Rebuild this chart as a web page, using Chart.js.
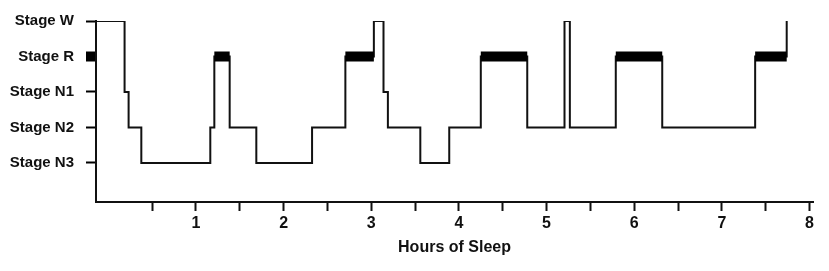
<!DOCTYPE html>
<html>
<head>
<meta charset="utf-8">
<script src="https://cdn.jsdelivr.net/npm/chart.js@4/dist/chart.umd.min.js"></script>
<style>
  html, body { margin: 0; padding: 0; background: #fff; }
  #wrap { width: 829px; height: 271px; }
</style>
</head>
<body>
<div id="wrap"><canvas id="hypnoChart" width="829" height="271"></canvas></div>
<script>
// stage names on the y axis, top to bottom
const stageNames = ['Stage W', 'Stage R', 'Stage N1', 'Stage N2', 'Stage N3'];
const stageKeys = ['W', 'R', 'N1', 'N2', 'N3'];

// hour at which each stage begins, and the stage
const stageStart = [-0.14, 0.186, 0.232, 0.377, 1.164, 1.21, 1.385, 1.689, 2.325, 2.705, 3.03, 3.14,
                    3.19, 3.56, 3.89, 4.25, 4.78, 5.205, 5.266, 5.79, 6.32, 7.38, 7.74];
const stageLevel = ['W', 'N1', 'N2', 'N3', 'N2', 'R', 'N2', 'N3', 'N2', 'R', 'W', 'N1',
                    'N2', 'N3', 'N2', 'R', 'N2', 'W', 'N2', 'R', 'N2', 'R', 'W'];

// x axis ticks (half hours), labels only on whole hours
const hourTicks = [0.5, 1, 1.5, 2, 2.5, 3, 3.5, 4, 4.5, 5, 5.5, 6, 6.5, 7, 7.5, 8];
const hourLabels = ['1', '2', '3', '4', '5', '6', '7', '8'];

function levelValue(key) {
    return 5 - stageKeys.indexOf(key);
}

const stepPoints = stageStart.map((x, i) => ({ x: x, y: levelValue(stageLevel[i]) }));

const remPoints = [];
stageLevel.forEach((lvl, i) => {
    if (lvl === 'R' && i + 1 < stageStart.length) {
        remPoints.push({ x: stageStart[i], y: levelValue('R') });
        remPoints.push({ x: stageStart[i + 1], y: levelValue('R') });
        remPoints.push({ x: stageStart[i + 1], y: null });
    }
});

const fontFam = '"Liberation Sans", Arial, Helvetica, sans-serif';

const ctx = document.getElementById('hypnoChart').getContext('2d');
new Chart(ctx, {
    type: 'line',
    data: {
        datasets: [{
            data: remPoints,
            borderColor: '#000',
            borderWidth: 10,
            borderCapStyle: 'butt',
            pointRadius: 0,
            spanGaps: false,
            order: 0
        }, {
            data: stepPoints,
            stepped: 'before',
            borderColor: '#111',
            borderWidth: 2,
            pointRadius: 0,
            fill: false,
            order: 1
        }]
    },
    options: {
        responsive: false,
        animation: false,
        layout: { padding: { left: 0, right: 16, top: 20, bottom: 0 } },
        plugins: {
            legend: { display: false },
            tooltip: { enabled: false }
        },
        scales: {
            x: {
                type: 'linear',
                min: -0.14,
                max: 8.04,
                afterBuildTicks: function(scale) {
                    scale.ticks = hourTicks.map(v => ({ value: v }));
                },
                afterFit: function(scale) { scale.height = 69; },
                border: { display: true, color: '#111', width: 2 },
                grid: {
                    drawOnChartArea: false,
                    drawTicks: true,
                    tickLength: 9,
                    tickWidth: 2,
                    tickColor: '#111'
                },
                ticks: {
                    autoSkip: false,
                    maxRotation: 0,
                    padding: 3,
                    color: '#111',
                    font: { family: fontFam, size: 16, weight: 'bold' },
                    callback: function(value) {
                        return Number.isInteger(value) ? hourLabels[value - 1] : '';
                    }
                },
                title: {
                    display: true,
                    text: 'Hours of Sleep',
                    color: '#111',
                    padding: { top: 0, bottom: 14 },
                    font: { family: fontFam, size: 16, weight: 'bold' }
                }
            },
            y: {
                type: 'linear',
                min: -0.1,
                max: 5,
                afterBuildTicks: function(scale) {
                    scale.ticks = [5, 4, 3, 2, 1].map(v => ({ value: v }));
                },
                afterFit: function(scale) { scale.width = 96; },
                border: { display: true, color: '#111', width: 2 },
                grid: {
                    drawOnChartArea: false,
                    drawTicks: true,
                    tickLength: 10,
                    tickColor: '#000',
                    tickWidth: function(c) {
                        return c.tick && c.tick.value === levelValue('R') ? 10 : 2;
                    }
                },
                ticks: {
                    autoSkip: false,
                    padding: 12,
                    color: '#111',
                    font: { family: fontFam, size: 15, weight: 'bold' },
                    callback: function(value) {
                        return stageNames[5 - value];
                    }
                }
            }
        }
    }
});
</script>
</body>
</html>
